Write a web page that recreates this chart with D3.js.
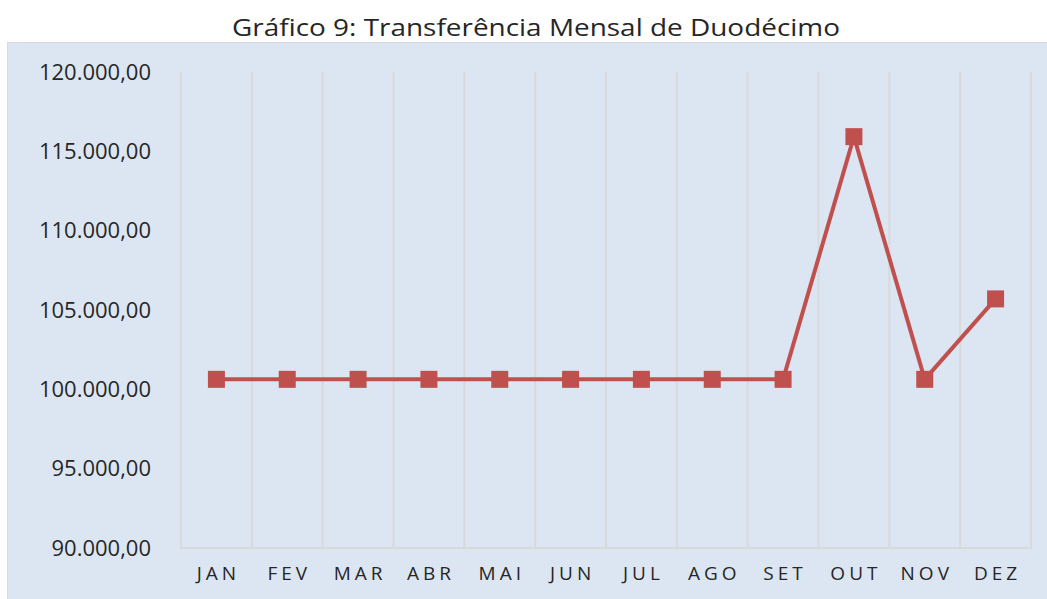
<!DOCTYPE html>
<html>
<head>
<meta charset="utf-8">
<script src="https://cdn.jsdelivr.net/npm/d3@7"></script>
<style>
  body { margin: 0; background: #fff; }
  text { font-family: "Open Sans", sans-serif; }
</style>
</head>
<body>
<div id="root"></div>
<script>
// data
var months = ["JAN", "FEV", "MAR", "ABR", "MAI", "JUN", "JUL", "AGO", "SET", "OUT", "NOV", "DEZ"];
var values = [100630, 100630, 100630, 100630, 100630, 100630, 100630, 100630, 100630, 115925, 100630, 105700];
var yTicks = [90000, 95000, 100000, 105000, 110000, 115000, 120000];

var width = 1047;
var height = 599;

var svg = d3
  .select("#root")
  .append("svg")
  .attr("width", width)
  .attr("height", height);

// plot area background
svg
  .append("rect")
  .attr("x", 7.5)
  .attr("y", 42.5)
  .attr("width", width - 7)
  .attr("height", height - 41)
  .attr("fill", "#dce6f2")
  .attr("stroke", "#d9d9d9")
  .attr("stroke-width", 1);

svg
  .append("text")
  .attr("x", 536)
  .attr("y", 36)
  .attr("text-anchor", "middle")
  .attr("font-size", 24)
  .attr("textLength", 608)
  .attr("lengthAdjust", "spacingAndGlyphs")
  .style("fill", "#262626")
  .text("Gráfico 9: Transferência Mensal de Duodécimo");

var xScale = d3.scaleBand().domain(months).range([181, 1031]);
var yScale = d3.scaleLinear().domain([90000, 120000]).range([548, 72]);

// vertical gridlines at category boundaries
var bounds = months.map((m) => xScale(m)).concat([xScale.range()[1]]);
svg
  .append("g")
  .selectAll("line")
  .data(bounds)
  .enter()
  .append("line")
  .attr("x1", (d) => d)
  .attr("x2", (d) => d)
  .attr("y1", 72)
  .attr("y2", 548)
  .attr("stroke", "#d9d9d9")
  .attr("stroke-width", 2);

// bottom axis line
svg
  .append("line")
  .attr("x1", 180)
  .attr("x2", 1032)
  .attr("y1", 548)
  .attr("y2", 548)
  .attr("stroke", "#d9d9d9")
  .attr("stroke-width", 2);

// y axis
var fmt = (v) => d3.format(",.2f")(v).replace(/,/g, "#").replace(".", ",").replace(/#/g, ".");
var yAxis = d3.axisLeft(yScale).tickValues(yTicks).tickFormat(fmt).tickSize(0).tickPadding(0);
var yg = svg.append("g").attr("transform", "translate(151,0)").call(yAxis);
yg.select(".domain").remove();
yg.selectAll("text")
  .attr("font-size", 22)
  .attr("font-family", "Open Sans, sans-serif")
  .style("fill", "#262626");

// x axis
var xAxis = d3.axisBottom(xScale).tickSize(0).tickPadding(0);
var xg = svg.append("g").attr("transform", "translate(0,566)").call(xAxis);
xg.select(".domain").remove();
xg.selectAll("text")
  .attr("font-size", 19)
  .attr("font-family", "Open Sans, sans-serif")
  .attr("letter-spacing", 4)
  .attr("dx", 2)
  .style("fill", "#262626");

// line
var line = d3
  .line()
  .x((d, i) => xScale(months[i]) + xScale.bandwidth() / 2)
  .y((d) => yScale(d));

svg
  .append("path")
  .datum(values)
  .attr("d", line)
  .attr("fill", "none")
  .attr("stroke", "#c0504d")
  .attr("stroke-width", 4)
  .attr("stroke-linejoin", "round");

// square markers
var ms = 17;
svg
  .append("g")
  .selectAll("rect")
  .data(values)
  .enter()
  .append("rect")
  .attr("x", (d, i) => xScale(months[i]) + xScale.bandwidth() / 2 - ms / 2)
  .attr("y", (d) => yScale(d) - ms / 2)
  .attr("width", ms)
  .attr("height", ms)
  .attr("fill", "#c0504d");
</script>
</body>
</html>
